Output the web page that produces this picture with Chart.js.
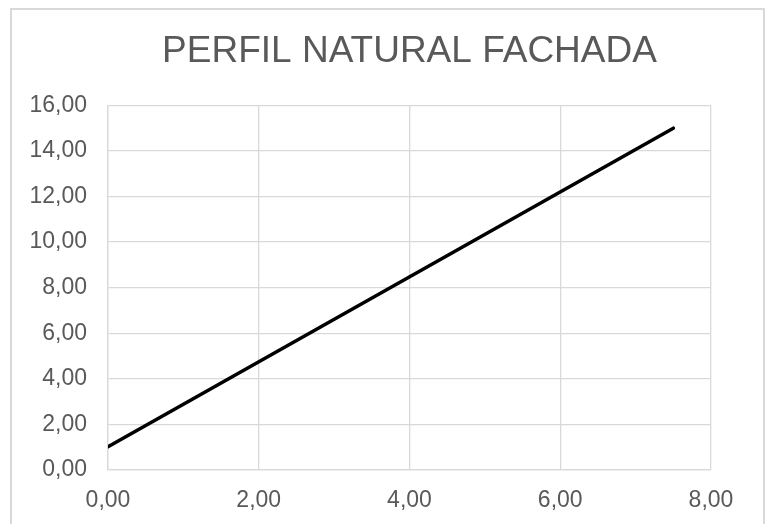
<!DOCTYPE html>
<html>
<head>
<meta charset="utf-8">
<script src="https://cdn.jsdelivr.net/npm/chart.js@4.4.1/dist/chart.umd.min.js"></script>
<style>
  html, body { margin: 0; padding: 0; background: #fff; }
  #wrap { position: relative; width: 770px; height: 524px; overflow: hidden; }
  #frame { position: absolute; left: 10px; top: 8px; width: 751px; height: 530px; border: 2px solid #d9d9d9; }
  #chart { position: absolute; left: 0; top: 0; }
</style>
</head>
<body>
<div id="wrap">
  <div id="frame"></div>
  <canvas id="chart" width="770" height="524"></canvas>
</div>
<script>
// perfil natural de la fachada
const xValues = [0.00, 7.50];
const yValues = [1.02, 15.00];
const xTicks = [0, 2, 4, 6, 8];
const yTicks = [0, 2, 4, 6, 8, 10, 12, 14, 16];
const titleText = 'PERFIL NATURAL FACHADA';

const fmt = v => v.toFixed(2).replace('.', ',');
const gridColor = '#d9d9d9';
const textColor = '#595959';
const fontFamily = '"Liberation Sans", Arial, sans-serif';

new Chart(document.getElementById('chart'), {
    type: 'scatter',
    data: {
        datasets: [{
            data: xValues.map((x, i) => ({x: x, y: yValues[i]})),
            showLine: true,
            borderColor: '#000',
            borderWidth: 3.5,
            borderCapStyle: 'round',
            pointRadius: 0,
            tension: 0,
        }],
    },
    options: {
        responsive: false,
        animation: false,
        layout: {padding: {top: 0, left: 0, right: 59, bottom: 0}},
        plugins: {
            legend: {display: false},
            tooltip: {enabled: false},
            title: {
                display: true,
                text: titleText,
                fullSize: false,
                color: textColor,
                font: {family: fontFamily, size: 37, weight: 'normal'},
                padding: {top: 30, bottom: 31},
            },
        },
        scales: {
            x: {
                type: 'linear',
                min: 0, max: 8,
                afterBuildTicks: s => { s.ticks = xTicks.map(v => ({value: v})); },
                afterFit: s => { s.height = 54; },
                grid: {color: gridColor, lineWidth: 1.3, drawTicks: false},
                border: {color: gridColor, width: 1.3},
                ticks: {
                    color: textColor,
                    padding: 17,
                    font: {family: fontFamily, size: 23},
                    callback: v => fmt(v),
                },
            },
            y: {
                type: 'linear',
                min: 0, max: 16,
                afterBuildTicks: s => { s.ticks = yTicks.map(v => ({value: v})); },
                afterFit: s => { s.width = 108; },
                grid: {color: gridColor, lineWidth: 1.3, drawTicks: false},
                border: {color: gridColor, width: 1.3},
                ticks: {
                    color: textColor,
                    padding: 21,
                    font: {family: fontFamily, size: 23},
                    callback: v => fmt(v),
                },
            },
        },
    },
});
</script>
</body>
</html>
